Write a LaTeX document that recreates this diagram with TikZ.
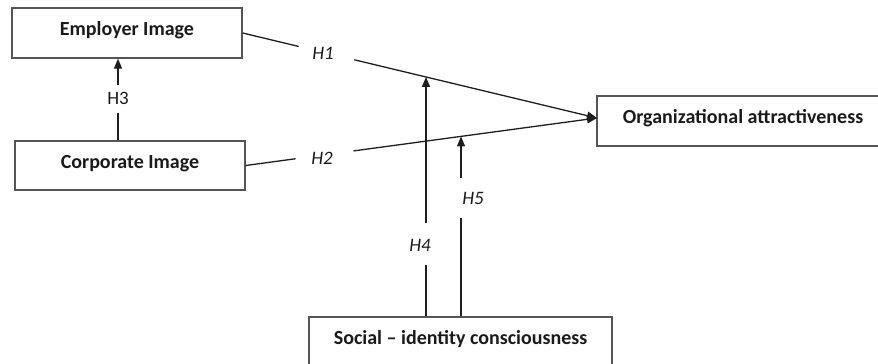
\documentclass[tikz,border=0pt]{standalone}
\usepackage{fontspec}
\setmainfont{Carlito}
\usetikzlibrary{arrows.meta,calc}
\definecolor{boxline}{HTML}{555555}
\definecolor{conn}{HTML}{1E1E1E}
\definecolor{txt}{HTML}{1A1A1A}
\begin{document}
\begin{tikzpicture}[x=1pt,y=-1pt,
  box/.style={draw=boxline, line width=1.3pt, rectangle, inner sep=0pt,
    font=\fontsize{20}{23}\selectfont\bfseries, text=txt,
    text height=14pt, text depth=9pt},
  hyp/.style={inner sep=0pt, font=\fontsize{19}{22}\selectfont, text=txt},
  conline/.style={draw=conn, line width=1.3pt},
  arr/.style={conline, -{Triangle[length=10pt,width=8pt]}}]
\clip (0,0) rectangle (878,364);
% boxes
\node[box, minimum width=230, minimum height=50] (emp) at (127,33) {Employer Image};
\node[box, minimum width=230, minimum height=49] (corp) at (130,165.5) {Corporate Image};
\node[box, minimum width=292, minimum height=50] (org) at (743,121) {Organizational attractiveness};
\node[box, minimum width=303, minimum height=50] (soc) at (460.5,342) {Social – identity consciousness};
% hypothesis labels
\node[hyp] (h1) at (323,53) {\itshape H1};
\node[hyp] (h2) at (322,158) {\itshape H2};
\node[hyp] (h3) at (118,98) {H3};
\node[hyp] (h4) at (420,245) {\itshape H4};
\node[hyp] (h5) at (473,198) {\itshape H5};
\coordinate (tip) at (597,118);
\coordinate (x4) at (intersection of emp.east--tip and 426,0--426,300);
\coordinate (x5) at (intersection of corp.east--tip and 461,0--461,300);
% H1
\draw[conline] (emp.east) -- ($(emp.east)!0.158!(tip)$);
\draw[arr] ($(emp.east)!0.315!(tip)$) -- (tip);
% H2
\draw[conline] (corp.east) -- ($(corp.east)!0.142!(tip)$);
\draw[arr] ($(corp.east)!0.307!(tip)$) -- (tip);
% H3
\draw[conline] (corp.north -| h3) -- ($(h3)+(0,15)$);
\draw[arr] ($(h3)+(0,-13)$) -- (h3 |- emp.south);
% H4
\draw[conline] (soc.north -| 426,0) -- (426,265);
\draw[arr] (426,223) -- (426,0 |- x4);
% H5
\draw[conline] (soc.north -| 461,0) -- (461,218);
\draw[arr] (461,178) -- (461,0 |- x5);
\end{tikzpicture}
\end{document}
